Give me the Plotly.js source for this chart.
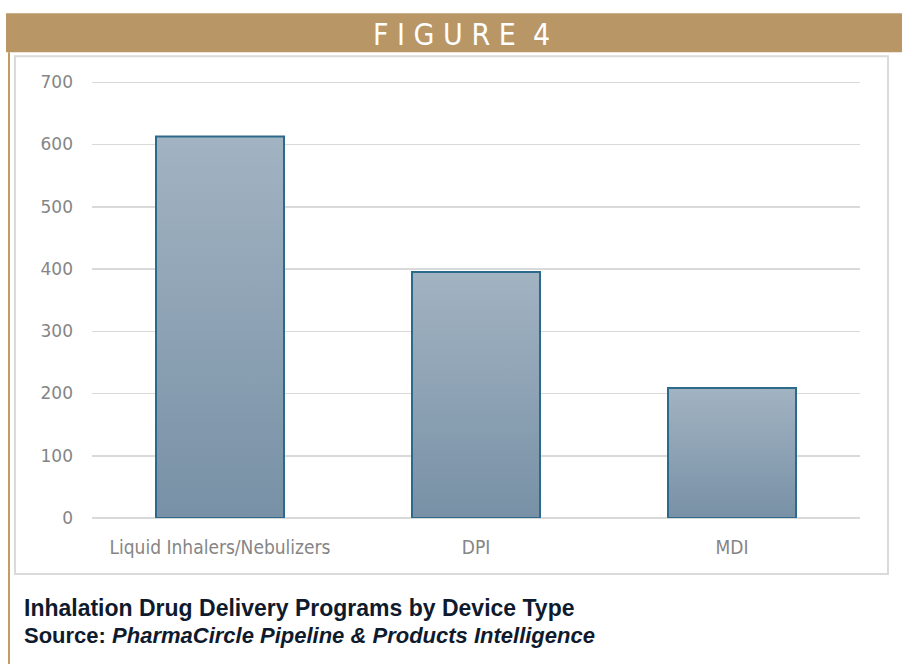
<!DOCTYPE html>
<html>
<head>
<meta charset="utf-8">
<script src="https://cdn.plot.ly/plotly-3.0.1.min.js"></script>
<style>
  html, body { margin:0; padding:0; background:#fff; }
  #chart { width:902px; height:664px; }
  #chart .bars .point path { fill: url(#barGrad) !important; }
</style>
</head>
<body>
<svg width="0" height="0" style="position:absolute">
  <defs>
    <linearGradient id="barGrad" x1="0" y1="0" x2="0" y2="1">
      <stop offset="0" stop-color="#A2B3C2"/>
      <stop offset="1" stop-color="#7891A6"/>
    </linearGradient>
  </defs>
</svg>
<div id="chart"></div>
<script>
// ---- data ----
const categories = ["Liquid Inhalers/Nebulizers", "DPI", "MDI"];
const programs = [613, 395, 209];
const yTicks = [0, 100, 200, 300, 400, 500, 600, 700];
const figureLabel = "F I G U R E  4";
const captionTitle = "Inhalation Drug Delivery Programs by Device Type";
const captionSource = "<b>Source: <i>PharmaCircle Pipeline &amp; Products Intelligence</i></b>";

// ---- layout geometry (pixels) ----
const W = 902, H = 664;
const L = 92, R = 860, T = 80.75, B = 518;
const px = x => (x - L) / (R - L);
const py = y => (B - y) / (B - T);

const trace = {
  type: "bar",
  x: categories,
  y: programs,
  marker: { color: "#8CA1B4", line: { color: "#2C6A8C", width: 2 } },
  hoverinfo: "none"
};

const layout = {
  width: W, height: H,
  margin: { l: L, r: W - R, t: T, b: H - B, pad: 0 },
  paper_bgcolor: "#ffffff",
  plot_bgcolor: "rgba(0,0,0,0)",
  showlegend: false,
  bargap: 0.5,
  font: { family: "'Liberation Sans Narrow', 'DejaVu Sans Condensed', 'Liberation Sans', sans-serif", color: "#858585", size: 16 },
  xaxis: {
    showgrid: false, zeroline: false, showline: false, ticks: "",
    ticklabelstandoff: 16,
    tickfont: { size: 19, color: "#858585" }
  },
  yaxis: {
    range: [0, 702], tickvals: yTicks, ticktext: yTicks.map(String),
    showgrid: true, gridcolor: "#D9D9D9", gridwidth: 1.5,
    zeroline: true, zerolinecolor: "#D9D9D9", zerolinewidth: 1.5,
    showline: false, ticks: "",
    ticklabelstandoff: 18,
    tickfont: { family: "'DejaVu Sans', sans-serif", size: 17, color: "#858585" }
  },
  shapes: [
    // header band
    { type: "rect", xref: "paper", yref: "paper", layer: "below",
      x0: px(6), x1: px(902), y0: py(52), y1: py(13),
      fillcolor: "#B89666", line: { width: 0 } },
    // left vertical rule
    { type: "line", xref: "paper", yref: "paper", layer: "below",
      x0: px(9), x1: px(9), y0: py(52), y1: py(664),
      line: { color: "#C49B63", width: 2 } },
    // chart box
    { type: "rect", xref: "paper", yref: "paper", layer: "below",
      x0: px(15), x1: px(888), y0: py(574), y1: py(56),
      fillcolor: "rgba(0,0,0,0)", line: { color: "#DADADA", width: 2 } }
  ],
  annotations: [
    { xref: "paper", yref: "paper", x: px(461), y: py(34), xanchor: "center", yanchor: "middle",
      text: figureLabel, showarrow: false,
      font: { family: "'Liberation Sans Narrow', 'DejaVu Sans Condensed', sans-serif", size: 30, color: "#ffffff" } },
    { xref: "paper", yref: "paper", x: px(22), y: py(608), xanchor: "left", yanchor: "middle",
      text: "<b>" + captionTitle + "</b>", showarrow: false,
      font: { family: "'Liberation Sans', sans-serif", size: 23, color: "#0F1B2D" } },
    { xref: "paper", yref: "paper", x: px(22), y: py(636), xanchor: "left", yanchor: "middle",
      text: captionSource, showarrow: false,
      font: { family: "'Liberation Sans', sans-serif", size: 22, color: "#0F1B2D" } }
  ]
};

Plotly.newPlot("chart", [trace], layout, { staticPlot: true, displayModeBar: false });
</script>
</body>
</html>
